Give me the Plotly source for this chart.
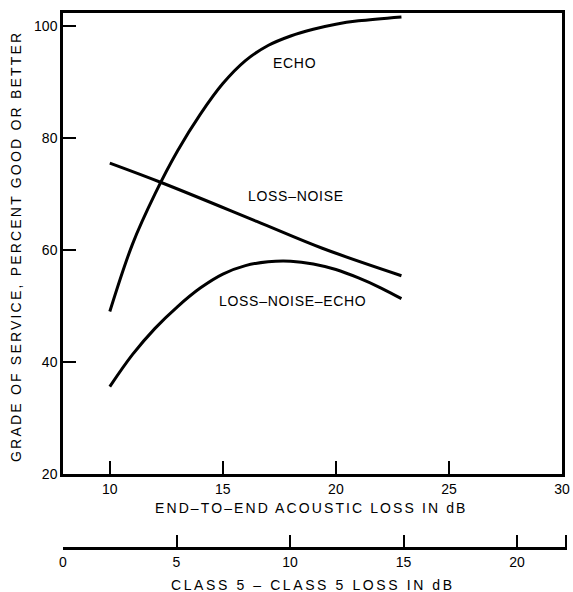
import plotly.graph_objects as go

# ---- data ----
echo_x = [10, 11, 12, 13, 14, 15, 16, 17, 18, 19, 20, 21, 22.9]
echo_y = [49, 61, 70, 77.7, 84.2, 89.7, 93.8, 96.5, 98.2, 99.4, 100.3, 100.9, 101.6]

loss_noise_x = [10, 12.3, 16.5, 19.4, 22.9]
loss_noise_y = [75.5, 72.0, 65.1, 60.3, 55.4]

lne_x = [10, 11, 12, 13, 14, 15, 16, 17, 18, 19, 20, 21, 22, 22.9]
lne_y = [35.6, 41.3, 46.0, 49.9, 53.2, 55.7, 57.2, 57.9, 58.0, 57.5, 56.5, 55.0, 53.2, 51.3]

x_ticks = [10, 15, 20, 25, 30]
y_ticks = [20, 40, 60, 80, 100]
x2_ticks = [0, 5, 10, 15, 20, 22.15]
x2_ticklabels = ["0", "5", "10", "15", "20", ""]

curve_labels = ["ECHO", "LOSS–NOISE", "LOSS–NOISE–ECHO"]
label_x = [18.15, 18.24, 18.06]
label_y = [93.4, 69.6, 50.8]

FONT = "Liberation Sans, Arial, sans-serif"
LW = 3

fig = go.Figure()
for xs, ys in [(echo_x, echo_y), (loss_noise_x, loss_noise_y), (lne_x, lne_y)]:
    fig.add_trace(go.Scatter(x=xs, y=ys, mode="lines",
                             line=dict(color="black", width=LW, shape="spline", smoothing=1.0),
                             showlegend=False, hoverinfo="skip"))

# dummy trace for secondary (class 5) axis
fig.add_trace(go.Scatter(x=[0, 22.2], y=[None, None], xaxis="x2", yaxis="y", mode="lines",
                         showlegend=False, hoverinfo="skip"))

for t, xx, yy in zip(curve_labels, label_x, label_y):
    fig.add_annotation(x=xx, y=yy, text=f'<span style="letter-spacing:0.7px">{t}</span>',
                       showarrow=False, xref="x", yref="y",
                       font=dict(family=FONT, size=14, color="black"))

# axis titles
fig.add_annotation(text='<span style="letter-spacing:2.2px">GRADE OF SERVICE, PERCENT GOOD OR BETTER</span>',
                   xref="paper", yref="paper", x=-0.0933, y=0.5645, textangle=-90,
                   showarrow=False, xanchor="center", yanchor="middle",
                   font=dict(family=FONT, size=14, color="black"))
fig.add_annotation(text='<span style="letter-spacing:2.1px">END–TO–END ACOUSTIC LOSS IN dB</span>',
                   xref="paper", yref="paper", x=0.493, y=0.0748, showarrow=False,
                   xanchor="center", yanchor="middle",
                   font=dict(family=FONT, size=14, color="black"))
fig.add_annotation(text='<span style="letter-spacing:2.6px">CLASS 5 – CLASS 5 LOSS IN dB</span>',
                   xref="paper", yref="paper", x=0.497, y=-0.069, showarrow=False,
                   xanchor="center", yanchor="middle",
                   font=dict(family=FONT, size=14, color="black"))

axis_common = dict(showgrid=False, zeroline=False, showline=True, linecolor="black", linewidth=2.5,
                   ticks="inside", tickcolor="black", tickwidth=2, automargin=False,
                   tickfont=dict(family=FONT, size=14, color="black"))

fig.update_layout(
    width=573, height=592,
    margin=dict(l=63, r=6, t=13, b=44),
    paper_bgcolor="white", plot_bgcolor="rgba(0,0,0,0)",
    xaxis=dict(range=[7.93, 30], domain=[0, 0.990], tickvals=x_ticks, ticklen=13, mirror=True,
               anchor="y", **axis_common),
    yaxis=dict(range=[20, 102.3], domain=[0.1383, 1], tickvals=y_ticks, ticklen=13, mirror=True,
               anchor="x", **axis_common),
    xaxis2=dict(range=[0, 22.2], domain=[0, 1], tickvals=x2_ticks, ticktext=x2_ticklabels,
                ticklen=12, anchor="free", position=0, **axis_common),
)

fig.write_html("out.html")
